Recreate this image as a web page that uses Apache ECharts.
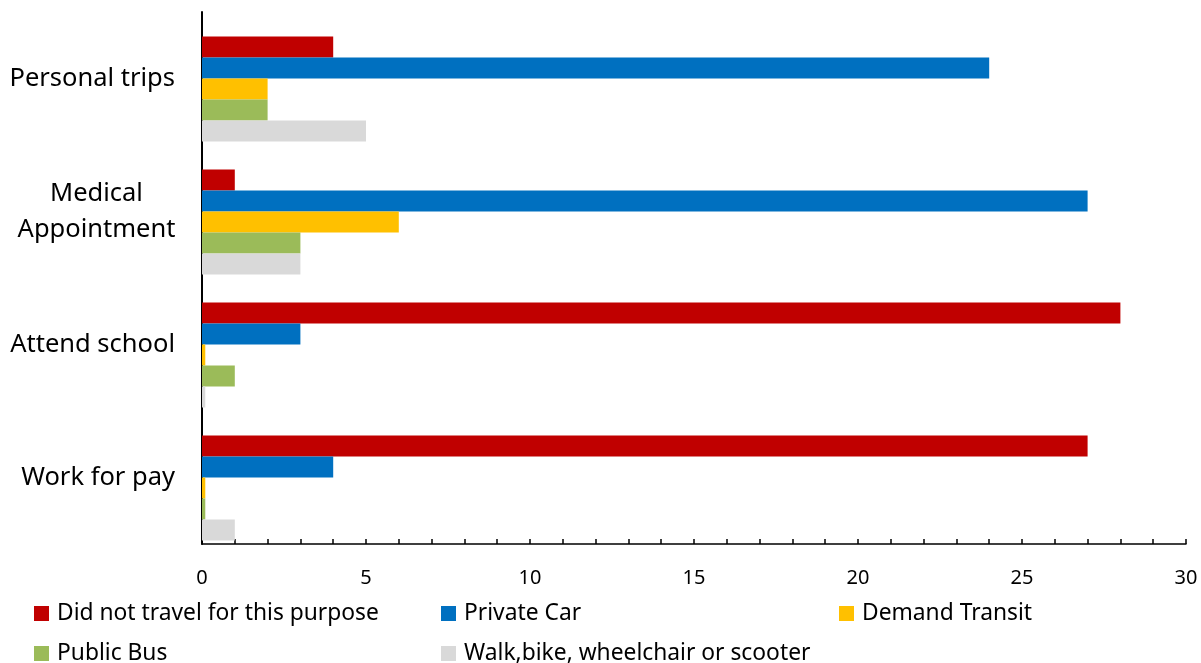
<!DOCTYPE html>
<html>
<head>
<meta charset="utf-8">
<script src="https://cdn.jsdelivr.net/npm/echarts@6/dist/echarts.min.js"></script>
<style>
  html, body { margin: 0; padding: 0; background: #fff; }
  #chart { width: 1201px; height: 663px; }
</style>
</head>
<body>
<div id="chart"></div>
<script>
// Trip purposes, listed top to bottom
const categories = ['Personal trips', 'Medical\nAppointment', 'Attend school', 'Work for pay'];

// Number of respondents by travel mode for each purpose
const didNotTravel = [4, 1, 28, 27];
const privateCar   = [24, 27, 3, 4];
const demandTransit = [2, 6, 0.1, 0.1];
const publicBus    = [2, 3, 1, 0.1];
const walkBike     = [5, 3, 0.1, 1];

const xTicks = [0, 5, 10, 15, 20, 25, 30];

const FONT = 'Noto Sans';

const seriesDefs = [
  { name: 'Did not travel for this purpose', data: didNotTravel, color: '#C00000' },
  { name: 'Private Car', data: privateCar, color: '#0070C0' },
  { name: 'Demand Transit', data: demandTransit, color: '#FFC000' },
  { name: 'Public Bus', data: publicBus, color: '#9BBB59' },
  { name: 'Walk,bike, wheelchair or scooter', data: walkBike, color: '#D9D9D9' }
];

const chart = echarts.init(document.getElementById('chart'), null, { renderer: 'canvas' });

// empty slot at the top of each group, keeping the bars in the lower part of the band
const series = [{
  name: '_pad',
  type: 'bar',
  data: categories.map(() => 0),
  barWidth: 21,
  barGap: '0%',
  itemStyle: { color: 'transparent' },
  silent: true
}];
seriesDefs.forEach(s => series.push({
  name: s.name,
  type: 'bar',
  data: s.data,
  barWidth: 21,
  barGap: '0%',
  itemStyle: { color: s.color }
}));

function legendAt(name, left, top) {
  return {
    data: [name],
    left: left,
    top: top,
    itemWidth: 15,
    itemHeight: 15,
    icon: 'rect',
    itemGap: 0,
    padding: 0,
    textStyle: { fontFamily: FONT, fontSize: 22.8, color: '#000', padding: [0, 0, 0, 3] },
    selectedMode: false
  };
}

chart.setOption({
  backgroundColor: '#fff',
  animation: false,
  grid: { left: 202, right: 15, top: 12, bottom: 119, containLabel: false },
  legend: [
    legendAt(seriesDefs[0].name, 34, 602),
    legendAt(seriesDefs[1].name, 441, 602),
    legendAt(seriesDefs[2].name, 839, 602),
    legendAt(seriesDefs[3].name, 34, 642),
    legendAt(seriesDefs[4].name, 441, 642)
  ],
  xAxis: {
    type: 'value',
    min: xTicks[0],
    max: xTicks[xTicks.length - 1],
    interval: 5,
    axisLine: { show: true, lineStyle: { color: '#000', width: 1.5 } },
    axisTick: { show: true, inside: true, length: 5, lineStyle: { color: '#000', width: 1.5 } },
    minorTick: { show: true, splitNumber: 5, length: 5, lineStyle: { color: '#000', width: 1.5 } },
    splitLine: { show: false },
    axisLabel: { fontFamily: FONT, fontSize: 20, color: '#000', margin: 24 }
  },
  yAxis: {
    type: 'category',
    data: categories,
    inverse: true,
    axisLine: { show: true, lineStyle: { color: '#000', width: 2 } },
    axisTick: { show: false },
    axisLabel: {
      fontFamily: FONT, fontSize: 25.5, color: '#000', margin: 27, align: 'right',
      formatter: v => v.indexOf('\n') >= 0
        ? v.split('\n').map(line => '{c|' + line + '}').join('\n')
        : v,
      rich: {
        c: { fontFamily: FONT, fontSize: 25.5, color: '#000', width: 157, align: 'center', lineHeight: 36 }
      }
    },
    splitLine: { show: false }
  },
  series: series
});
</script>
</body>
</html>
